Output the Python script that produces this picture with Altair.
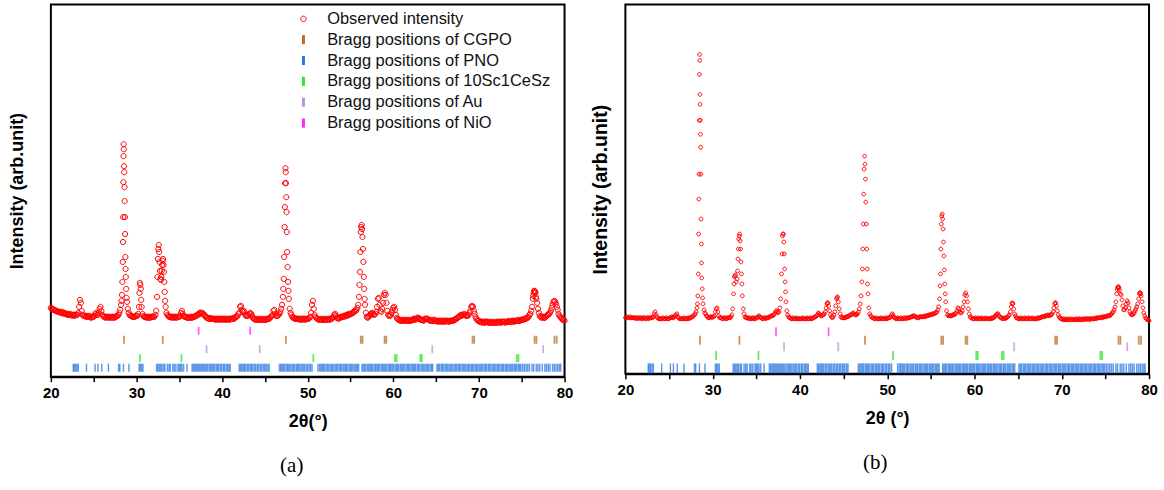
import altair as alt
import pandas as pd

# ------------------------------------------------------------------ data
# Observed intensity (arb. units). One row per degree (20..79), ten readings at 0.1° steps.
obs_a_rows = [
    [69, 68, 68, 67, 67, 66, 66, 66, 65, 65],  # 20
    [65, 64, 64, 65, 64, 63, 64, 63, 63, 62],  # 21
    [63, 62, 62, 63, 62, 61, 62, 62, 61, 62],  # 22
    [62, 62, 64, 70, 77, 74, 66, 62, 61, 61],  # 23
    [61, 60, 61, 60, 60, 61, 60, 59, 60, 60],  # 24
    [60, 61, 63, 64, 62, 62, 64, 68, 70, 66],  # 25
    [62, 61, 60, 60, 59, 60, 60, 59, 60, 60],  # 26
    [59, 60, 59, 60, 59, 60, 60, 61, 61, 62],  # 27
    [64, 67, 72, 82, 115, 233, 190, 120, 88, 75],  # 28
    [68, 64, 62, 61, 61, 60, 60, 60, 60, 61],  # 29
    [61, 61, 63, 70, 94, 88, 70, 63, 61, 60],  # 30
    [60, 60, 59, 60, 59, 60, 59, 60, 60, 60],  # 31
    [60, 60, 62, 66, 80, 118, 132, 115, 98, 100],  # 32
    [112, 118, 105, 85, 70, 64, 62, 61, 60, 60],  # 33
    [60, 59, 60, 60, 59, 60, 60, 59, 60, 60],  # 34
    [60, 61, 64, 66, 63, 61, 60, 60, 60, 59],  # 35
    [59, 60, 59, 59, 60, 59, 60, 60, 60, 61],  # 36
    [61, 62, 62, 63, 64, 64, 63, 64, 63, 62],  # 37
    [61, 60, 59, 59, 58, 58, 59, 58, 58, 58],  # 38
    [58, 58, 57, 58, 58, 57, 58, 58, 57, 58],  # 39
    [58, 57, 58, 58, 57, 58, 57, 58, 58, 57],  # 40
    [58, 58, 58, 59, 58, 59, 60, 60, 61, 63],  # 41
    [64, 70, 71, 67, 65, 66, 65, 62, 61, 61],  # 42
    [61, 62, 63, 64, 63, 61, 59, 58, 58, 57],  # 43
    [57, 57, 58, 57, 57, 58, 57, 57, 58, 57],  # 44
    [57, 58, 57, 58, 58, 58, 59, 60, 61, 62],  # 45
    [66, 67, 63, 61, 61, 61, 62, 63, 65, 68],  # 46
    [72, 80, 98, 150, 209, 180, 125, 95, 78, 68],  # 47
    [64, 62, 60, 59, 59, 58, 58, 58, 58, 58],  # 48
    [58, 57, 58, 58, 57, 58, 58, 57, 58, 58],  # 49
    [58, 58, 59, 60, 64, 72, 76, 68, 62, 60],  # 50
    [59, 58, 58, 57, 57, 58, 57, 57, 58, 57],  # 51
    [57, 58, 57, 57, 58, 58, 57, 58, 58, 59],  # 52
    [60, 62, 63, 61, 59, 59, 58, 59, 59, 60],  # 53
    [60, 60, 61, 60, 61, 62, 61, 62, 63, 62],  # 54
    [63, 63, 64, 64, 65, 66, 66, 67, 69, 72],  # 55
    [80, 105, 145, 152, 140, 115, 88, 72, 64, 60],  # 56
    [59, 60, 61, 62, 63, 64, 63, 62, 62, 63],  # 57
    [65, 70, 78, 79, 72, 66, 65, 68, 74, 82],  # 58
    [84, 82, 74, 66, 62, 61, 61, 62, 64, 67],  # 59
    [69, 70, 67, 62, 59, 58, 57, 57, 56, 57],  # 60
    [56, 56, 57, 56, 57, 56, 56, 57, 56, 56],  # 61
    [57, 56, 57, 57, 58, 58, 57, 58, 59, 59],  # 62
    [58, 58, 57, 57, 57, 56, 57, 58, 58, 58],  # 63
    [58, 57, 57, 56, 56, 57, 56, 56, 57, 56],  # 64
    [56, 56, 55, 56, 56, 55, 56, 56, 55, 56],  # 65
    [56, 55, 56, 56, 56, 55, 56, 56, 56, 56],  # 66
    [56, 57, 57, 58, 58, 59, 60, 60, 61, 62],  # 67
    [61, 62, 62, 63, 62, 61, 61, 61, 62, 64],  # 68
    [66, 70, 71, 70, 66, 63, 60, 58, 57, 56],  # 69
    [56, 55, 55, 55, 54, 55, 55, 54, 55, 55],  # 70
    [55, 54, 55, 54, 54, 55, 54, 54, 55, 54],  # 71
    [54, 55, 55, 54, 55, 55, 54, 55, 55, 55],  # 72
    [55, 54, 55, 55, 55, 56, 55, 55, 55, 56],  # 73
    [56, 55, 56, 56, 56, 56, 57, 56, 56, 57],  # 74
    [57, 57, 57, 58, 58, 58, 59, 59, 60, 62],  # 75
    [63, 66, 70, 78, 84, 86, 84, 78, 74, 68],  # 76
    [64, 61, 60, 59, 60, 60, 59, 59, 60, 61],  # 77
    [62, 62, 63, 64, 66, 69, 72, 75, 76, 75],  # 78
    [73, 70, 67, 63, 61, 60, 59, 58, 57, 57],  # 79
]
obs_a_end = 56  # 80.0°
# extra readings on the steep flanks of the strong reflections
obs_a_extra_tt = [28.25, 28.35, 28.42, 28.45, 28.47, 28.49, 28.52, 28.54, 28.57, 28.62,
                  28.65, 28.67, 28.72, 28.75, 28.85, 30.35, 30.45, 30.55,
                  32.45, 32.55, 32.65, 32.75, 32.85, 32.95, 33.05, 33.15, 33.25, 33.35,
                  47.15, 47.25, 47.33, 47.36, 47.43, 47.46, 47.53, 47.56, 47.65, 47.75,
                  56.05, 56.15, 56.25, 56.35, 56.45, 56.55, 56.65,
                  76.35, 76.45, 76.55, 76.65]
obs_a_extra_I = [76, 95, 135, 160, 195, 221, 228, 211, 205, 176,
                 160, 143, 108, 100, 79, 84, 92, 77,
                 100, 128, 125, 106, 97, 106, 116, 112, 95, 76,
                 88, 120, 170, 194, 205, 194, 165, 145, 110, 86,
                 92, 125, 150, 148, 128, 100, 78,
                 81, 86, 85, 80]

obs_b_rows = [
    [56, 56, 57, 56, 56, 57, 56, 56, 56, 56],  # 20
    [56, 56, 55, 56, 56, 55, 56, 56, 55, 56],  # 21
    [55, 56, 56, 55, 55, 56, 56, 55, 56, 56],  # 22
    [56, 56, 57, 60, 62, 59, 57, 56, 55, 55],  # 23
    [55, 55, 55, 56, 55, 55, 55, 56, 55, 55],  # 24
    [55, 56, 56, 57, 56, 56, 57, 58, 59, 60],  # 25
    [57, 56, 55, 55, 55, 55, 55, 56, 55, 55],  # 26
    [55, 55, 56, 55, 56, 56, 57, 57, 58, 59],  # 27
    [60, 62, 66, 78, 140, 320, 240, 130, 85, 70],  # 28
    [64, 61, 60, 58, 57, 56, 56, 57, 57, 56],  # 29
    [57, 57, 58, 62, 65, 66, 62, 58, 56, 56],  # 30
    [56, 55, 55, 56, 56, 55, 55, 56, 56, 56],  # 31
    [56, 57, 59, 65, 80, 97, 99, 92, 95, 115],  # 32
    [135, 140, 125, 100, 78, 65, 60, 57, 56, 56],  # 33
    [56, 55, 56, 55, 55, 56, 55, 56, 55, 55],  # 34
    [56, 56, 57, 58, 57, 56, 56, 55, 55, 56],  # 35
    [56, 55, 56, 56, 56, 57, 57, 58, 58, 58],  # 36
    [59, 60, 62, 63, 62, 61, 62, 66, 75, 100],  # 37
    [138, 140, 120, 92, 72, 63, 59, 57, 56, 56],  # 38
    [55, 55, 56, 55, 55, 55, 56, 55, 55, 55],  # 39
    [55, 55, 55, 56, 55, 55, 55, 55, 56, 55],  # 40
    [55, 55, 56, 55, 55, 56, 56, 57, 57, 58],  # 41
    [59, 61, 60, 59, 58, 58, 59, 59, 60, 62],  # 42
    [66, 70, 71, 68, 63, 59, 57, 56, 57, 59],  # 43
    [62, 68, 75, 77, 72, 65, 60, 57, 56, 56],  # 44
    [56, 56, 56, 57, 57, 57, 58, 58, 59, 59],  # 45
    [60, 61, 60, 59, 59, 59, 60, 62, 65, 70],  # 46
    [78, 92, 125, 180, 218, 195, 150, 105, 80, 66],  # 47
    [60, 58, 57, 56, 56, 55, 55, 56, 55, 55],  # 48
    [55, 55, 55, 56, 55, 55, 55, 55, 56, 55],  # 49
    [55, 56, 56, 56, 57, 59, 60, 58, 56, 56],  # 50
    [55, 55, 56, 55, 55, 55, 56, 55, 55, 56],  # 51
    [55, 56, 55, 56, 56, 56, 56, 57, 57, 57],  # 52
    [58, 58, 57, 57, 56, 56, 56, 57, 57, 57],  # 53
    [57, 57, 57, 58, 57, 58, 58, 58, 59, 59],  # 54
    [59, 59, 60, 60, 60, 61, 61, 62, 64, 67],  # 55
    [75, 100, 150, 160, 145, 118, 90, 72, 63, 59],  # 56
    [58, 58, 58, 58, 58, 59, 59, 59, 60, 61],  # 57
    [63, 66, 65, 62, 61, 61, 63, 67, 72, 79],  # 58
    [81, 78, 72, 65, 60, 57, 56, 56, 55, 55],  # 59
    [55, 56, 55, 55, 56, 55, 55, 55, 56, 55],  # 60
    [55, 55, 55, 56, 55, 55, 55, 55, 55, 56],  # 61
    [55, 56, 56, 57, 58, 59, 60, 60, 58, 57],  # 62
    [56, 56, 55, 55, 56, 55, 56, 56, 57, 58],  # 63
    [59, 62, 67, 71, 70, 65, 60, 58, 56, 56],  # 64
    [55, 55, 55, 56, 55, 55, 55, 55, 56, 55],  # 65
    [55, 55, 56, 55, 55, 55, 56, 55, 55, 55],  # 66
    [55, 55, 56, 55, 56, 56, 56, 57, 57, 57],  # 67
    [57, 58, 58, 58, 59, 58, 58, 59, 59, 60],  # 68
    [62, 66, 70, 71, 68, 63, 59, 57, 56, 55],  # 69
    [55, 54, 55, 54, 54, 55, 54, 54, 55, 54],  # 70
    [54, 54, 55, 54, 54, 54, 55, 54, 54, 55],  # 71
    [54, 55, 54, 54, 55, 54, 55, 55, 54, 55],  # 72
    [55, 55, 54, 55, 55, 55, 55, 55, 55, 56],  # 73
    [55, 56, 56, 56, 56, 56, 57, 56, 57, 57],  # 74
    [57, 57, 58, 58, 58, 58, 59, 60, 61, 62],  # 75
    [64, 67, 72, 80, 86, 87, 84, 80, 79, 74],  # 76
    [68, 64, 64, 66, 70, 73, 71, 66, 62, 60],  # 77
    [59, 59, 60, 61, 63, 65, 67, 70, 75, 80],  # 78
    [81, 78, 72, 66, 61, 58, 56, 55, 54, 54],  # 79
]
obs_b_end = 53
obs_b_extra_tt = [28.25, 28.35, 28.42, 28.44, 28.46, 28.48, 28.52, 28.54, 28.56, 28.58,
                  28.63, 28.65, 28.67, 28.72, 28.75, 28.85,
                  32.45, 32.55, 32.85, 32.95, 33.05, 33.15, 33.25, 33.35,
                  37.95, 38.05, 38.15, 38.25, 38.35,
                  47.15, 47.25, 47.35, 47.45, 47.55, 47.65, 47.75,
                  56.05, 56.15, 56.25, 56.35, 56.45, 56.55, 56.65,
                  76.35, 76.45, 76.55, 78.95, 79.05, 43.15, 44.25, 64.35, 69.25]
obs_b_extra_I = [70, 100, 175, 200, 254, 300, 314, 280, 270, 254,
                 227, 200, 155, 111, 96, 76,
                 90, 98, 103, 125, 138, 133, 112, 90,
                 120, 140, 132, 105, 82,
                 105, 150, 205, 210, 172, 125, 90,
                 88, 125, 158, 155, 132, 104, 80,
                 84, 87, 86, 81, 80, 71, 76, 70, 71]

# Bragg reflection positions (2θ, °)
bragg_CGPO = [28.54, 33.07, 47.45, 56.2, 56.4, 58.98, 59.18, 69.25, 69.45,
              76.5, 76.72, 78.82, 79.08]
bragg_10Sc1CeSz = [30.4, 35.25, 50.66, 60.2, 60.38, 63.15, 63.33, 74.42, 74.62]
bragg_Au = [38.18, 44.39, 64.55, 77.5]
bragg_NiO = [37.26, 43.28]
bragg_PNO = [
    22.62, 22.75, 22.88, 23.05, 23.2, 24.16, 25.16, 25.5, 25.94, 26.72, 27.92, 28.05,
    28.48, 29.12, 30.32, 30.45, 30.6, 30.75,
    32.35, 32.5, 32.65, 32.8, 32.95, 33.15, 33.3, 33.6, 33.8, 33.95, 34.25, 34.4, 34.6,
    34.85, 35.0, 35.15, 35.3, 35.5, 35.9, 36.5, 36.65, 36.8, 36.95, 37.1, 37.25, 37.4,
    37.55, 37.7, 37.85, 38.0, 38.15, 38.3, 38.5, 38.65, 38.8, 38.95, 39.1, 39.3, 39.45,
    39.6, 39.8, 39.95, 40.15, 40.3, 40.5, 40.65, 40.8, 40.95,
    42.0, 42.15, 42.3, 42.45, 42.6, 42.75, 42.95, 43.1, 43.3, 43.45, 43.6, 43.8, 43.95,
    44.15, 44.3, 44.5, 44.65, 44.85, 45.0, 45.15, 45.35, 45.5,
    46.7, 46.85, 47.0, 47.15, 47.3, 47.5, 47.65, 47.8, 47.95, 48.15, 48.3, 48.45, 48.65,
    48.8, 48.95, 49.1, 49.3, 49.45, 49.6, 49.8, 49.95, 50.15, 50.3, 50.5,
    51.2, 51.4, 51.55, 51.7, 51.85, 52.0, 52.2, 52.35, 52.5, 52.7, 52.85, 53.0, 53.2,
    53.35, 53.5, 53.7, 53.85, 54.0, 54.2, 54.35, 54.5, 54.65, 54.85, 55.0, 55.15, 55.3,
    55.5, 55.65, 55.8, 55.95,
    56.35, 56.5, 56.65, 56.8, 57.0, 57.15, 57.3, 57.45, 57.6, 57.8, 57.95, 58.1, 58.25,
    58.4, 58.6, 58.75, 58.9, 59.05, 59.2, 59.4, 59.55, 59.7, 59.85, 60.0, 60.2, 60.35,
    60.5, 60.65, 60.85, 61.0, 61.15, 61.3, 61.5, 61.65, 61.8, 61.95, 62.15, 62.3, 62.45,
    62.6, 62.8, 62.95, 63.1, 63.3, 63.45, 63.6, 63.8, 63.95, 64.1, 64.3, 64.45, 64.6,
    65.1, 65.25, 65.4, 65.6, 65.75, 65.9, 66.1, 66.25, 66.4, 66.6, 66.75, 66.9, 67.1,
    67.25, 67.4, 67.6, 67.75, 67.9, 68.1, 68.25, 68.4, 68.6, 68.75, 68.9, 69.1, 69.25,
    69.4, 69.6, 69.75, 69.9, 70.1, 70.25, 70.4, 70.6, 70.75, 70.9, 71.1, 71.25, 71.4,
    71.6, 71.75, 71.9, 72.1, 72.25, 72.4, 72.6, 72.75, 72.9, 73.1, 73.25, 73.4, 73.6,
    73.75, 73.9, 74.1, 74.25, 74.4, 74.6, 74.75, 74.9, 75.1, 75.3, 75.5, 75.7, 75.9,
    76.2, 76.4, 76.7, 76.9, 77.1, 77.4, 77.7, 77.9, 78.1, 78.3, 78.6, 78.8, 79.0, 79.2,
    79.4, 79.55,
]

phases = ["CGPO", "PNO", "10Sc1CeSz", "Au", "NiO"]
legend_labels = ["Observed intensity"] + [f"Bragg positions of {p}" for p in phases]
legend_colors = ["#ff0000", "#b5651d", "#1f6fe0", "#1ee61e", "#b98ae6", "#ff1aff"]
phase_colors = dict(zip(phases, legend_colors[1:]))
bragg_positions = {"CGPO": bragg_CGPO, "PNO": bragg_PNO, "10Sc1CeSz": bragg_10Sc1CeSz,
                   "Au": bragg_Au, "NiO": bragg_NiO}
# vertical level (arb. units) of each row of Bragg ticks below the pattern
row_level_a = {"NiO": 46, "CGPO": 37, "Au": 27.5, "10Sc1CeSz": 18.5, "PNO": 9}
row_level_b = {"NiO": 42, "CGPO": 33.5, "Au": 27, "10Sc1CeSz": 18.3, "PNO": 5.3}


def observed_frame(rows, end_value, extra_tt, extra_I):
    tt, inten = [], []
    for i, row in enumerate(rows):
        for j, v in enumerate(row):
            tt.append(round(20 + i + 0.1 * j, 2))
            inten.append(v)
    tt.append(80.0)
    inten.append(end_value)
    tt += extra_tt
    inten += extra_I
    return pd.DataFrame({"tt": tt, "I": inten, "series": "Observed intensity"})


def bragg_frame(levels, phase_list):
    recs = []
    for p in phase_list:
        for pos in bragg_positions[p]:
            recs.append({"tt": pos, "I": levels[p], "color": phase_colors[p]})
    return pd.DataFrame(recs)


BAR = "M-0.2,-1V1M-0.07,-1V1M0.07,-1V1M0.2,-1V1"


def circle_path(r):
    return f"M{r},0A{r},{r},0,1,1,-{r},0A{r},{r},0,1,1,{r},0Z"


def panel(obs, levels, *, width, height, ymax, circ_r, point_size, lg_size, lg_font,
          lg_x, lg_y, lg_offset, lg_pad, ytitle_size, ytitle_pad, xtitle, caption,
          caption_dx, pno_len, tick_len):
    shapes = [circle_path(circ_r)] + [BAR] * 5
    x_axis = alt.Axis(values=list(range(20, 81, 5)),
                      labelExpr="datum.value % 10 === 0 ? datum.label : ''",
                      tickSize=5, tickWidth=1.5, tickColor="black",
                      domainColor="black", domainWidth=2, grid=False,
                      labelFont="Liberation Sans", labelFontSize=15,
                      labelFontWeight="bold", labelColor="black", labelPadding=4,
                      labelFlush=False,
                      titleFont="Liberation Sans", titleFontSize=18,
                      titleFontWeight="bold", titleColor="black", titlePadding=12)
    y_axis = alt.Axis(labels=False, ticks=False, domain=False, grid=False,
                      titleFont="Liberation Sans", titleFontSize=ytitle_size,
                      titleFontWeight="bold", titleColor="black",
                      titlePadding=ytitle_pad)
    x = alt.X("tt:Q", scale=alt.Scale(domain=[20, 80], nice=False, zero=False),
              axis=x_axis, title=xtitle)
    y = alt.Y("I:Q", scale=alt.Scale(domain=[0, ymax], nice=False),
              axis=y_axis, title="Intensity (arb.unit)")
    legend = alt.Legend(title=None, orient="none", legendX=lg_x, legendY=lg_y,
                        labelFont="Liberation Sans", labelFontSize=lg_font,
                        labelColor="#111111", symbolSize=lg_size,
                        symbolStrokeWidth=1, labelOffset=lg_offset,
                        rowPadding=lg_pad, padding=0, labelLimit=400)
    points = alt.Chart(obs).mark_point(filled=False, strokeWidth=1.0, opacity=1).encode(
        x=x, y=y,
        color=alt.Color("series:N", scale=alt.Scale(domain=legend_labels, range=legend_colors),
                        legend=legend),
        shape=alt.Shape("series:N", scale=alt.Scale(domain=legend_labels, range=shapes),
                        legend=legend),
        size=alt.value(point_size),
    )
    others = alt.Chart(bragg_frame(levels, ["CGPO", "10Sc1CeSz", "Au", "NiO"])).mark_tick(
        orient="vertical", thickness=1.8, size=tick_len).encode(
        x=alt.X("tt:Q"), y=alt.Y("I:Q"), color=alt.Color("color:N", scale=None))
    pno = alt.Chart(bragg_frame(levels, ["PNO"])).mark_tick(
        orient="vertical", thickness=1.5, size=pno_len).encode(
        x=alt.X("tt:Q"), y=alt.Y("I:Q"), color=alt.Color("color:N", scale=None))
    return alt.layer(points, others, pno).properties(
        width=width, height=height,
        title=alt.TitleParams(text=caption, orient="bottom", anchor="middle",
                              font="Liberation Serif", fontSize=21, fontWeight="normal",
                              color="black", offset=25, dx=caption_dx),
    )


obs_a = observed_frame(obs_a_rows, obs_a_end, obs_a_extra_tt, obs_a_extra_I)
obs_b = observed_frame(obs_b_rows, obs_b_end, obs_b_extra_tt, obs_b_extra_I)

panel_a = panel(obs_a, row_level_a, width=515, height=373, ymax=373, circ_r=0.6,
                point_size=75, lg_size=81, lg_font=16.5, lg_x=245, lg_y=6,
                lg_offset=15.5, lg_pad=3.9, ytitle_size=18, ytitle_pad=24,
                xtitle="2θ(°)", caption="(a)", caption_dx=-16, pno_len=8, tick_len=8)
panel_b = panel(obs_b, row_level_b, width=525, height=370, ymax=370, circ_r=0.9,
                point_size=38, lg_size=121, lg_font=18, lg_x=236.5, lg_y=11,
                lg_offset=14.5, lg_pad=4, ytitle_size=19.5, ytitle_pad=15,
                xtitle="2θ (°)", caption="(b)", caption_dx=-12, pno_len=10, tick_len=9)

chart = alt.hconcat(panel_a, panel_b, spacing=15).properties(
    padding={"left": 8, "top": 3, "right": 5, "bottom": 5}
).configure_view(stroke="black", strokeWidth=2)

chart.save("out.html", embed_options={"renderer": "svg", "actions": False})
